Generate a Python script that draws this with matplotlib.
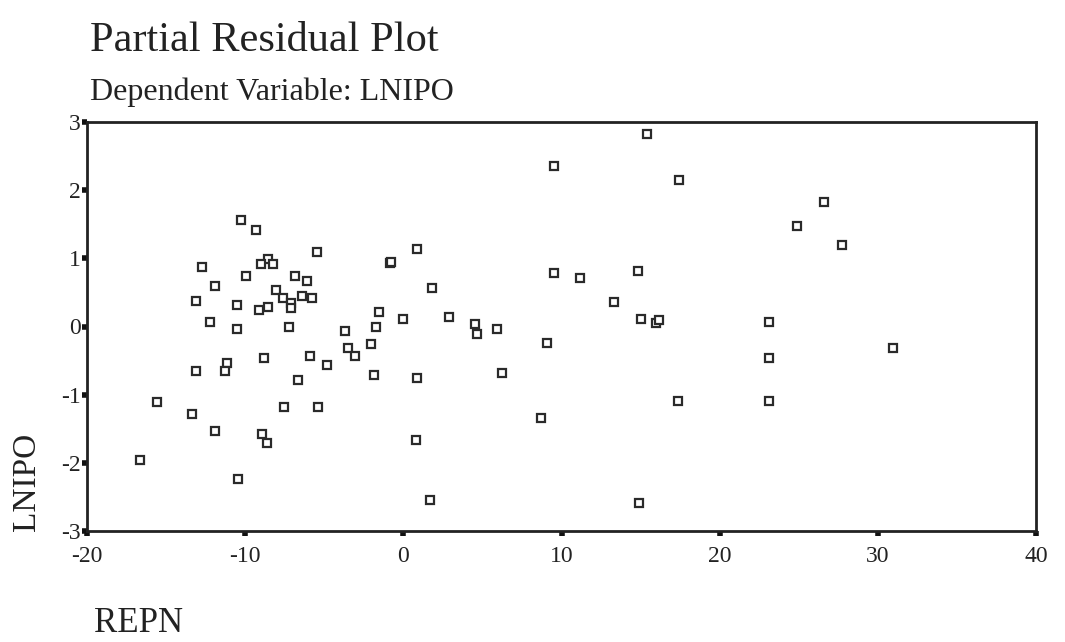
import matplotlib
matplotlib.use("Agg")
import matplotlib.pyplot as plt

plt.rcParams['font.family'] = ['Liberation Serif', 'DejaVu Serif']
plt.rcParams['axes.unicode_minus'] = False

# REPN (x) and LNIPO partial residual (y)
repn = [-10.25, -9.32, -5.48, -12.71, -8.56, -8.98, -8.22, -9.94, -6.83, -6.07,
        -11.93, -8.05, -7.61, -6.38, -5.78, -13.11, -7.12, -10.54, -8.54, -9.15,
        -7.12, -12.22, -10.53, -7.26, -3.68, -3.50, -3.06, -5.90, -8.83, -4.85,
        -11.17, -11.30, -13.11, -6.64, -15.59, -13.39, -7.56, -5.42, -11.88, -8.92,
        -8.61, -16.64, -10.46, 0.87, -0.83, -0.75, 9.53, 1.81, -1.54, -0.03,
        2.90, -1.70, 4.53, 4.65, 5.90, -2.02, 9.08, -1.88, 0.89, 6.21,
        15.42, 9.52, 17.42, 11.18, 14.83, 13.31, 15.02, 16.00, 16.15, 17.36,
        8.70, 0.78, 1.71, 14.91, 26.57, 24.86, 27.71, 23.09, 23.09, 30.95,
        23.11]
lnipo = [1.56, 1.42, 1.09, 0.88, 0.99, 0.92, 0.92, 0.74, 0.74, 0.67,
         0.59, 0.53, 0.42, 0.45, 0.42, 0.38, 0.35, 0.31, 0.28, 0.24,
         0.27, 0.06, -0.04, 0.00, -0.07, -0.32, -0.43, -0.43, -0.46, -0.57,
         -0.54, -0.65, -0.65, -0.78, -1.11, -1.29, -1.18, -1.18, -1.54, -1.57,
         -1.71, -1.96, -2.24, 1.14, 0.93, 0.95, 0.79, 0.57, 0.21, 0.11,
         0.14, 0.00, 0.04, -0.11, -0.03, -0.25, -0.24, -0.71, -0.75, -0.68,
         2.82, 2.35, 2.15, 0.71, 0.82, 0.36, 0.11, 0.05, 0.09, -1.10,
         -1.34, -1.67, -2.55, -2.59, 1.82, 1.47, 1.19, 0.07, -0.46, -0.31,
         -1.09]

x_ticks = [-20, -10, 0, 10, 20, 30, 40]
y_ticks = [-3, -2, -1, 0, 1, 2, 3]

fig = plt.figure(figsize=(10.65, 6.42), dpi=100)
ax = fig.add_axes([87 / 1065, 1 - 531 / 642, (1036 - 87) / 1065, (531 - 122) / 642])

ax.plot(repn, lnipo, linestyle='none', marker='s', markersize=5.5,
        markerfacecolor='white', markeredgecolor='#2a2a2a', markeredgewidth=1.6)

ax.set_xlim(-20, 40)
ax.set_ylim(-3, 3)
ax.set_xticks(x_ticks)
ax.set_yticks(y_ticks)
ax.tick_params(direction='out', length=3.5, width=4, color='#111111',
               labelsize=17, labelcolor='#222222')
ax.tick_params(axis='y', pad=1)
ax.tick_params(axis='x', pad=7)
for side in ax.spines.values():
    side.set_linewidth(2)
    side.set_color('#222222')

fig.text(90 / 1065, 1 - 51 / 642, 'Partial Residual Plot', fontsize=30.5,
         color='#222222', va='baseline', ha='left')
fig.text(90 / 1065, 1 - 100 / 642, 'Dependent Variable: LNIPO', fontsize=23,
         color='#222222', va='baseline', ha='left')
fig.text(27 / 1065, 1 - 482 / 642, 'LNIPO', fontsize=24, rotation=90,
         color='#222222', va='center', ha='center')
fig.text(94 / 1065, 1 - 632 / 642, 'REPN', fontsize=25,
         color='#222222', va='baseline', ha='left')

fig.savefig('out.png', dpi=100, facecolor='white')
